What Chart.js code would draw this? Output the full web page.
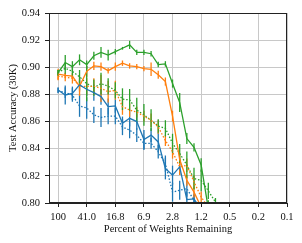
<!DOCTYPE html>
<html>
<head>
<meta charset="utf-8">
<script src="https://cdn.jsdelivr.net/npm/chart.js@4/dist/chart.umd.min.js"></script>
<style>
  html, body { margin: 0; padding: 0; background: #fff; }
  #wrap { width: 302px; height: 243px; }
</style>
</head>
<body>
<div id="wrap"><canvas id="chart" width="302" height="243"></canvas></div>
<script>
// tick labels for every 4th pruning round
const tickLabels = ["100", "41.0", "16.8", "6.9", "2.8", "1.2", "0.5", "0.2", "0.1"];
const yTicks = [0.80, 0.82, 0.84, 0.86, 0.88, 0.90, 0.92, 0.94];

// accuracy per pruning round (index 0 = 100%)
const greenSolid = [0.896, 0.9035, 0.9005, 0.9055, 0.902, 0.9085, 0.911, 0.909, 0.9115, 0.914, 0.9165, 0.911, 0.911, 0.910, 0.902, 0.9025, 0.888, 0.874, 0.8475, 0.841, 0.828, 0.796];
const greenSolidErr = [0.002, 0.0055, 0.004, 0.004, 0.003, 0.003, 0.004, 0.004, 0.002, 0.001, 0.003, 0.002, 0.002, 0.002, 0.002, 0.002, 0.003, 0.007, 0.004, 0.003, 0.005, 0.006];
const greenDotted = [0.896, 0.8993, 0.897, 0.893, 0.888, 0.885, 0.888, 0.886, 0.883, 0.8765, 0.876, 0.8685, 0.865, 0.861, 0.8567, 0.855, 0.844, 0.8365, 0.828, 0.818, 0.8167, 0.809, 0.8007];
const greenDottedErr = [0.002, 0.004, 0.004, 0.005, 0.013, 0.006, 0.008, 0.006, 0.006, 0.008, 0.008, 0.009, 0.008, 0.008, 0.005, 0.006, 0.007, 0.007, 0.01, 0.008, 0.008, 0.006, 0.003];
const orangeSolid = [0.895, 0.894, 0.8935, 0.886, 0.897, 0.901, 0.9005, 0.8975, 0.9005, 0.903, 0.901, 0.9005, 0.899, 0.8985, 0.8945, 0.8895, 0.864, 0.832, 0.8167, 0.808, 0.797];
const orangeSolidErr = [0.004, 0.002, 0.002, 0.007, 0.004, 0.003, 0.003, 0.002, 0.003, 0.002, 0.002, 0.002, 0.002, 0.005, 0.003, 0.003, 0.004, 0.004, 0.004, 0.004, 0.003];
const orangeDotted = [0.8935, 0.8927, 0.892, 0.886, 0.886, 0.886, 0.8845, 0.882, 0.883, 0.871, 0.8685, 0.867, 0.864, 0.861, 0.856, 0.846, 0.8377, 0.8266, 0.8278, 0.8155, 0.8044, 0.797];
const orangeDottedErr = [0.003, 0.003, 0.004, 0.004, 0.006, 0.006, 0.01, 0.008, 0.007, 0.006, 0.005, 0.004, 0.004, 0.005, 0.005, 0.004, 0.005, 0.006, 0.005, 0.005, 0.004, 0.003];
const blueSolid = [0.8833, 0.8796, 0.8808, 0.887, 0.8838, 0.8813, 0.8784, 0.871, 0.8715, 0.8587, 0.8624, 0.860, 0.8468, 0.850, 0.845, 0.8254, 0.8205, 0.8266, 0.8025, 0.803, 0.795];
const blueSolidErr = [0.002, 0.007, 0.005, 0.004, 0.005, 0.006, 0.006, 0.006, 0.005, 0.005, 0.006, 0.006, 0.007, 0.005, 0.007, 0.008, 0.007, 0.006, 0.006, 0.004, 0.003];
const blueDotted = [0.8828, 0.8813, 0.8796, 0.8715, 0.870, 0.865, 0.863, 0.864, 0.864, 0.856, 0.8537, 0.850, 0.844, 0.844, 0.8377, 0.829, 0.808, 0.8094, 0.8106, 0.802, 0.796];
const blueDottedErr = [0.002, 0.004, 0.005, 0.008, 0.008, 0.006, 0.007, 0.006, 0.006, 0.006, 0.006, 0.005, 0.005, 0.004, 0.005, 0.006, 0.007, 0.007, 0.006, 0.004, 0.003];

const BLUE = "#1f77b4", ORANGE = "#ff7f0e", GREEN = "#2ca02c";

function toPoints(vals) {
  return vals.map((v, i) => ({ x: i, y: v }));
}

function series(vals, errs, color, dotted) {
  return {
    data: toPoints(vals),
    errs: errs,
    borderColor: color,
    backgroundColor: color,
    borderWidth: 1.3,
    borderDash: dotted ? [1.5, 1.8] : [],
    pointRadius: 0,
    tension: 0,
  };
}

// vertical error bars + frame around plot
const errorBars = {
  id: "errorBars",
  beforeDatasetsDraw(chart) {
    const ctx = chart.ctx;
    const area = chart.chartArea;
    const xs = chart.scales.x, ys = chart.scales.y;
    ctx.save();
    ctx.beginPath();
    ctx.rect(area.left, area.top, area.right - area.left, area.bottom - area.top);
    ctx.clip();
    chart.data.datasets.forEach((ds) => {
      ctx.strokeStyle = ds.borderColor;
      ctx.lineWidth = 1.3;
      ds.data.forEach((p, i) => {
        const e = ds.errs[i];
        const px = xs.getPixelForValue(p.x);
        ctx.beginPath();
        ctx.moveTo(px, ys.getPixelForValue(p.y - e));
        ctx.lineTo(px, ys.getPixelForValue(p.y + e));
        ctx.stroke();
      });
    });
    ctx.restore();
  },
  afterDraw(chart) {
    const ctx = chart.ctx;
    const a = chart.chartArea;
    ctx.save();
    ctx.strokeStyle = "#222";
    ctx.lineWidth = 1;
    ctx.strokeRect(a.left + 0.5, a.top + 0.5, a.right - a.left - 1, a.bottom - a.top - 1);
    ctx.restore();
  },
};

new Chart(document.getElementById("chart").getContext("2d"), {
  type: "line",
  data: {
    datasets: [
      series(blueDotted, blueDottedErr, BLUE, true),
      series(blueSolid, blueSolidErr, BLUE, false),
      series(orangeDotted, orangeDottedErr, ORANGE, true),
      series(orangeSolid, orangeSolidErr, ORANGE, false),
      series(greenDotted, greenDottedErr, GREEN, true),
      series(greenSolid, greenSolidErr, GREEN, false),
    ],
  },
  options: {
    responsive: false,
    animation: false,
    layout: { padding: { left: 7, right: 15, top: 13, bottom: 7 } },
    plugins: { legend: { display: false }, tooltip: { enabled: false } },
    scales: {
      x: {
        type: "linear",
        min: -1.27,
        max: 32,
        afterBuildTicks: (axis) => {
          axis.ticks = tickLabels.map((_, i) => ({ value: i * 4 }));
        },
        afterFit: (axis) => { axis.height = 33; },
        ticks: {
          autoSkip: false,
          maxRotation: 0,
          padding: 4,
          color: "#111",
          font: { family: "Liberation Serif", size: 10.5 },
          callback: (v) => tickLabels[Math.round(v / 4)],
        },
        grid: { color: "#c8c8c8", lineWidth: 1, tickColor: "#222", tickLength: 4 },
        border: { color: "#222" },
        title: {
          display: true,
          text: "Percent of Weights Remaining",
          color: "#111",
          padding: { top: 0, bottom: 0 },
          font: { family: "Liberation Serif", size: 10.5 },
        },
      },
      y: {
        min: 0.80,
        max: 0.94,
        afterBuildTicks: (axis) => {
          axis.ticks = yTicks.map((v) => ({ value: v }));
        },
        afterFit: (axis) => { axis.width = 42; },
        ticks: {
          padding: 5,
          color: "#111",
          font: { family: "Liberation Serif", size: 10.5 },
          callback: (v) => v.toFixed(2),
        },
        grid: { color: "#c8c8c8", lineWidth: 1, tickColor: "#222", tickLength: 4 },
        border: { color: "#222" },
        title: {
          display: true,
          text: "Test Accuracy (30K)",
          color: "#111",
          padding: { top: 0, bottom: 0 },
          font: { family: "Liberation Serif", size: 10.5 },
        },
      },
    },
  },
  plugins: [errorBars],
});
</script>
</body>
</html>
